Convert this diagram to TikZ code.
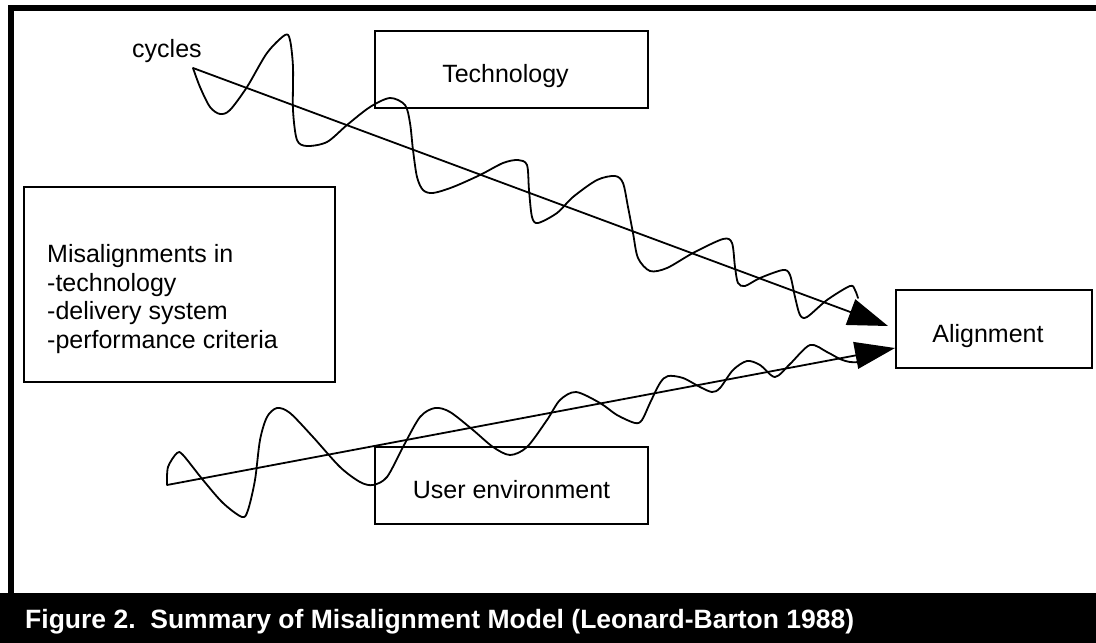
\documentclass[tikz,border=0pt]{standalone}
\usepackage{fontspec}
\setmainfont{Liberation Sans}
\usetikzlibrary{arrows.meta}
\begin{document}
\begin{tikzpicture}[x=1pt,y=-1pt,
  box/.style={draw, line width=2pt, inner sep=0pt, text height=26pt, text depth=0pt},
  lbl/.style={font=\fontsize{25}{28.5}\selectfont},
  arr/.style={line width=1.8pt, -{Triangle[length=40pt,width=27pt]}},
  wave/.style={line width=1.8pt, line join=round, line cap=round}]
\useasboundingbox (0,0) rectangle (1096,643);
\fill[white] (0,0) rectangle (1096,643);
% frame
\fill[black] (8,5) rectangle (1096,11);
\fill[black] (8,5) rectangle (14,593);
\fill[black] (0,593) rectangle (1096,643);
\node[anchor=base west, text=white, inner sep=0pt, font=\bfseries\fontsize{26.5}{30}\selectfont] (cap) at (25,628) {Figure 2.\ \ Summary of Misalignment Model (Leonard-Barton 1988)};
% boxes
\node[box, lbl, minimum width=273pt, minimum height=77pt, text width=261pt, align=center, xshift=-3pt] (tech) at (514.5,69.5) {\hspace*{-12pt}Technology};
\node[box, minimum width=311pt, minimum height=195pt] (misal) at (179.5,284.5) {};
\node[lbl, anchor=base west, align=left, inner sep=0pt] (misaltext) at (47,348) {Misalignments in\\-technology\\-delivery system\\-performance criteria};
\node[box, lbl, minimum width=273pt, minimum height=77pt] (user) at (511.5,485.5) {User environment};
\node[box, lbl, minimum width=196pt, minimum height=78pt] (align) at (994,329) {\hspace*{-12pt}Alignment};
\node[lbl, anchor=base west, inner sep=0pt] (cyc) at (132,57) {cycles};
% arrow ends
\coordinate (s1) at (193,68);
\coordinate (t1) at (888,326);
\coordinate (s2) at (167,485);
\coordinate (t2) at (align.west |- 0,348);
% waves
\draw[wave] plot[smooth, tension=0.5] coordinates {
 (193,68) (200,87) (210,107) (220,114) (230,110) (247,87) (267,53) (285,35) (290,40) (293,67)
 (293,110) (297,140) (307,146) (327,142) (347,125) (370,107) (390,98)
 (405,105) (410,123) (413,150) (417,177) (423,190) (433,193) (453,187) (480,175) (503,163) (518,160)
 (527,165) (529,190) (532,217) (538,223) (557,213) (573,197) (597,180) (615,176)
 (623,183) (628,207) (633,233) (638,258) (650,271) (667,268) (693,253) (723,239)
 (732,243) (735,267) (738,283) (745,286) (760,278) (783,270)
 (790,275) (795,297) (800,315) (807,317) (827,300) (850,286) (855,290) (858,298)};
\draw[wave] plot[smooth, tension=0.5] coordinates {
 (167,485) (168,467) (177,453) (183,455) (203,480) (223,503) (242,517) (248,510) (255,480)
 (260,440) (267,417) (277,408) (290,413) (313,437) (340,467) (360,482) (373,485)
 (387,477) (403,447) (420,417) (435,408) (450,412) (473,430) (493,447) (510,455)
 (527,447) (547,420) (560,400) (576,392) (600,403) (617,415) (635,423)
 (642,420) (650,403) (660,383) (668,376) (683,378) (700,387) (712,392)
 (720,388) (733,370) (747,361) (760,365) (775,377) (790,364) (810,345)
 (827,352) (840,359) (850,362) (860,362)};
% arrows
\draw[arr] (s1) -- (t1);
\draw[arr] (s2) -- (t2);
\end{tikzpicture}
\end{document}
